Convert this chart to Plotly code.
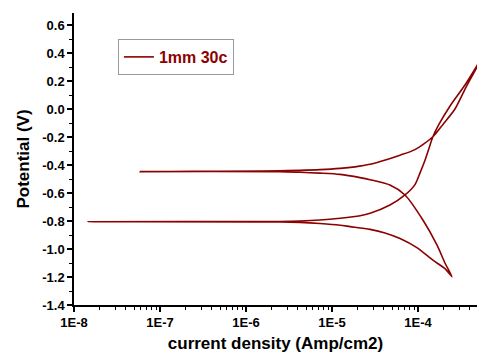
import plotly.graph_objects as go

# Single polarisation scan (current density in A/cm2, potential in V), in scan order
current = [
    2.48e-4, 2.06e-4, 1.49e-4, 9.7e-5, 6.18e-5, 4.13e-5, 2.77e-5, 1.62e-5, 1.24e-5,
    7.24e-6, 4.25e-6, 2.48e-6, 1.46e-8,
    2.48e-6, 4.25e-6, 7.24e-6, 1.24e-5, 2.12e-5, 2.77e-5, 4.72e-5, 7.06e-5, 9.22e-5,
    1.05e-4, 1.20e-4, 1.31e-4, 1.49e-4, 1.75e-4, 2.35e-4, 3.50e-4, 4.85e-4, 5.41e-4,
    4.85e-4, 3.61e-4, 2.69e-4, 1.95e-4, 1.49e-4, 9.22e-5, 6.18e-5, 4.37e-5, 2.77e-5,
    1.85e-5, 1.24e-5, 7.24e-6, 4.25e-6, 2.48e-6, 5.85e-8,
    2.48e-6, 4.25e-6, 7.24e-6, 1.24e-5, 2.12e-5, 2.77e-5, 4.72e-5, 7.06e-5, 1.14e-4,
    1.66e-4, 2.06e-4, 2.48e-4,
]
potential = [
    -1.198, -1.14, -1.08, -0.99, -0.925, -0.885, -0.86, -0.84, -0.83,
    -0.818, -0.81, -0.807, -0.805,
    -0.803, -0.80, -0.793, -0.78, -0.762, -0.745, -0.686, -0.614, -0.54,
    -0.46, -0.37, -0.30, -0.198, -0.11, 0.02, 0.17, 0.31, 0.36,
    0.30, 0.155, 0.0, -0.11, -0.198, -0.29, -0.33, -0.36, -0.395,
    -0.413, -0.424, -0.433, -0.438, -0.441, -0.447,
    -0.447, -0.452, -0.458, -0.467, -0.49, -0.505, -0.543, -0.614, -0.793,
    -0.971, -1.10, -1.198,
]
series_name = "1mm 30c"

x_tick_vals = [1e-8, 1e-7, 1e-6, 1e-5, 1e-4]
x_tick_text = ["1E-8", "1E-7", "1E-6", "1E-5", "1E-4"]
x_minor_vals = [m * 10.0 ** e for e in range(-8, -3) for m in range(2, 10)]
y_tick_vals = [0.6, 0.4, 0.2, 0.0, -0.2, -0.4, -0.6, -0.8, -1.0, -1.2, -1.4]
y_tick_text = ["0.6", "0.4", "0.2", "0.0", "-0.2", "-0.4", "-0.6", "-0.8", "-1.0", "-1.2", "-1.4"]

LINE = "#8b0000"
FONT = "Liberation Sans"

fig = go.Figure()
fig.add_trace(go.Scatter(
    x=current, y=potential, mode="lines", name=series_name,
    line=dict(color=LINE, width=1.6, shape="spline", smoothing=0.7), showlegend=True,
))

fig.update_layout(
    width=477, height=353,
    margin=dict(l=74, r=0, t=13, b=48),
    paper_bgcolor="white", plot_bgcolor="white",
    font=dict(family=FONT, color="black"),
    showlegend=True,
    legend=dict(
        x=0.109, y=0.911, xanchor="left", yanchor="top",
        bgcolor="white", bordercolor="#999999", borderwidth=1,
        font=dict(family=FONT, size=16, color=LINE, weight="bold"),
        itemwidth=30, tracegroupgap=0,
    ),
    xaxis=dict(
        type="log", range=[-8, -3.314],
        tickvals=x_tick_vals, ticktext=x_tick_text,
        tickfont=dict(family=FONT, size=13, weight="bold"),
        ticks="outside", ticklen=5, tickwidth=1.5, tickcolor="black",
        minor=dict(tickvals=x_minor_vals, ticks="outside", ticklen=3, tickwidth=1, tickcolor="black", showgrid=False),
        showline=True, linecolor="black", linewidth=1.5,
        showgrid=False, zeroline=False,
        title=dict(text="current density (Amp/cm2)", font=dict(family=FONT, size=17, weight="bold"), standoff=10),
    ),
    yaxis=dict(
        range=[-1.4, 0.686],
        tickvals=y_tick_vals, ticktext=y_tick_text,
        tickfont=dict(family=FONT, size=13, weight="bold"),
        ticks="outside", ticklen=5, tickwidth=1.5, tickcolor="black",
        minor=dict(dtick=0.1, tick0=0, ticks="outside", ticklen=3, tickwidth=1, tickcolor="black", showgrid=False),
        showline=True, linecolor="black", linewidth=1.5,
        showgrid=False, zeroline=False,
        title=dict(text="Potential (V)", font=dict(family=FONT, size=17, weight="bold"), standoff=8),
    ),
)

fig.write_html("out.html")
